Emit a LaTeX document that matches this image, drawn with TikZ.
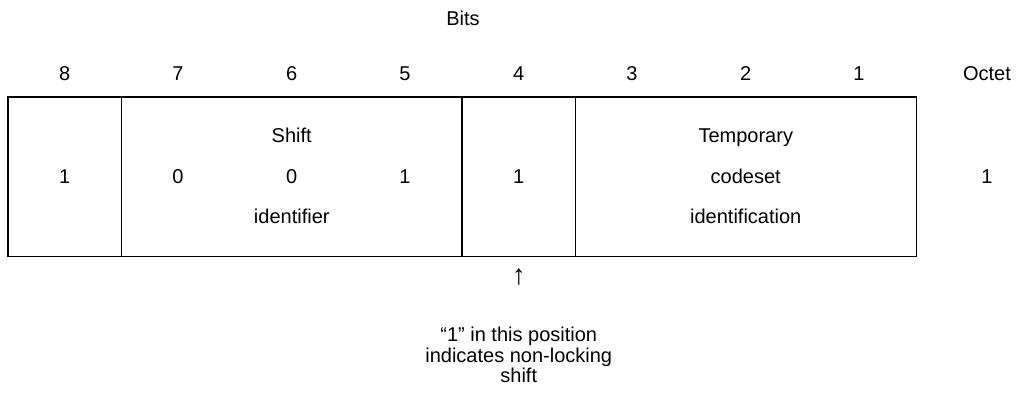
\documentclass[tikz,border=0pt]{standalone}
\usepackage{fontspec}
\setmainfont{Liberation Sans}
\begin{document}
\begin{tikzpicture}[x=1pt,y=-1pt,
  txt/.style={inner sep=0pt,text height=14.3pt,text depth=0pt,font=\fontsize{20}{24}\selectfont},
  cell/.style={minimum height=159pt,inner sep=0pt,anchor=north west},
  frame/.style={draw,line width=1.8pt}]
\useasboundingbox (0,0) rectangle (1018,396);
\node[txt] (bits) at (463,18) {Bits};
\foreach \b/\x in {8/64.75,7/178,6/291.75,5/405,4/518.75,3/632,2/745.75,1/859}
  \node[txt] (h\b) at (\x,73) {\b};
\node[txt] (octet) at (987,73) {Octet};
\node[cell,minimum width=113.5pt] (f8) at (8,97) {};
\node[cell,minimum width=340.5pt] (f765) at (121.5,97) {};
\node[cell,minimum width=113.5pt] (f4) at (462,97) {};
\node[cell,minimum width=340.5pt] (f321) at (575.5,97) {};
\draw[frame] (f8.north west) rectangle (f321.south east);
\draw[frame] (f765.north west) -- (f765.south west);
\draw[frame] (f4.north west) -- (f4.south west);
\draw[frame] (f321.north west) -- (f321.south west);
\node[txt] (v8) at (64.75,176) {1};
\node[txt] (v7) at (178,176) {0};
\node[txt] (v6) at (291.75,176) {0};
\node[txt] (v5) at (405,176) {1};
\node[txt] (v4) at (518.75,176) {1};
\node[txt] (s1) at (291.75,135) {Shift};
\node[txt] (s2) at (291.75,216) {identifier};
\node[txt] (t1) at (745.75,135) {Temporary};
\node[txt] (t2) at (745.75,176) {codeset};
\node[txt] (t3) at (745.75,216) {identification};
\node[txt] (oct1) at (987,176) {1};
\node[inner sep=0pt,font=\fontsize{28}{30}\selectfont] (arr) at (518.75,277) {↑};
\node[inner sep=0pt,align=center,font=\fontsize{20}{20.5}\selectfont] (note) at (518.75,355) {“1” in this position\\indicates non-locking\\shift};
\end{tikzpicture}
\end{document}
